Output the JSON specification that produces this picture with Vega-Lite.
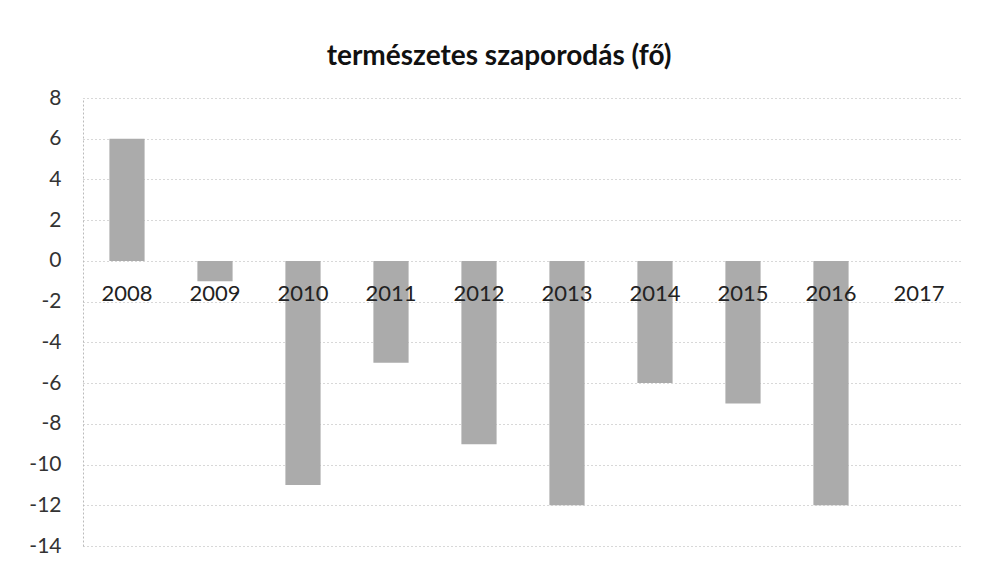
{
  "$schema": "https://vega.github.io/schema/vega-lite/v6.json",
  "width": 880,
  "height": 448,
  "autosize": {"type": "none"},
  "padding": {"left": 83, "top": 98, "right": 19, "bottom": 26},
  "background": "white",
  "title": {
    "text": "természetes szaporodás (fő)",
    "font": "Lato",
    "fontSize": 28,
    "fontWeight": "bold",
    "color": "#111111",
    "anchor": "middle",
    "dx": -24,
    "offset": 16
  },
  "data": {
    "values": [
      {"year": "2008", "value": 6},
      {"year": "2009", "value": -1},
      {"year": "2010", "value": -11},
      {"year": "2011", "value": -5},
      {"year": "2012", "value": -9},
      {"year": "2013", "value": -12},
      {"year": "2014", "value": -6},
      {"year": "2015", "value": -7},
      {"year": "2016", "value": -12},
      {"year": "2017", "value": 0}
    ]
  },
  "mark": {"type": "bar", "color": "#ababab"},
  "encoding": {
    "x": {
      "field": "year",
      "type": "ordinal",
      "scale": {"paddingInner": 0.6, "paddingOuter": 0.3},
      "axis": {
        "title": null,
        "orient": "bottom",
        "offset": -285,
        "domain": false,
        "ticks": false,
        "zindex": 1,
        "labelAngle": 0,
        "labelFont": "Lato",
        "labelFontSize": 22,
        "labelColor": "#222222",
        "labelPadding": 22
      }
    },
    "y": {
      "field": "value",
      "type": "quantitative",
      "scale": {"domain": [-14, 8], "nice": false, "zero": false},
      "axis": {
        "title": null,
        "values": [-14, -12, -10, -8, -6, -4, -2, 0, 2, 4, 6, 8],
        "labelExpr": "toString(datum.value)",
        "domainColor": "#bbbbbb",
        "domainDash": [2, 2],
        "ticks": false,
        "grid": true,
        "gridColor": "#b0b0b0",
        "gridDash": [1, 3],
        "labelFont": "Lato",
        "labelFontSize": 21,
        "labelColor": "#333333",
        "labelPadding": 22
      }
    }
  },
  "config": {"view": {"stroke": null}}
}
